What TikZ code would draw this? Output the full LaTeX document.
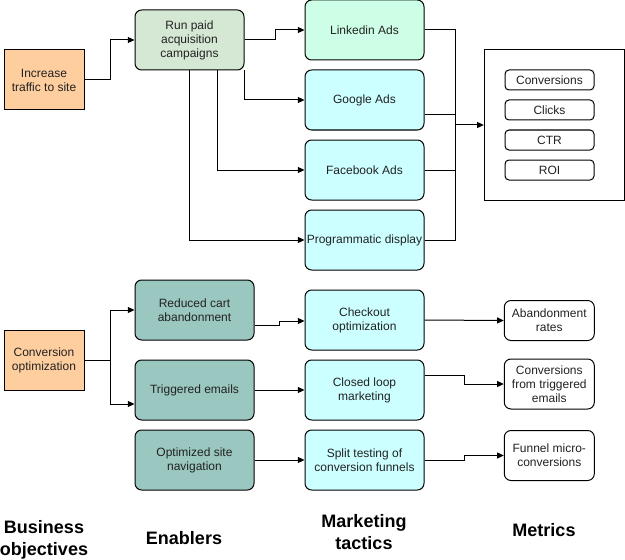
\documentclass[tikz,border=0pt]{standalone}
\usepackage{fontspec}
\setmainfont{Liberation Sans}
\usetikzlibrary{arrows.meta,calc}
\definecolor{orangef}{HTML}{FFCE9F}
\definecolor{greenf}{HTML}{D5E8D4}
\definecolor{mintf}{HTML}{CCFFE6}
\definecolor{cyanf}{HTML}{CCFFFF}
\definecolor{tealf}{HTML}{9AC7BF}
\definecolor{txt}{HTML}{222222}
\tikzset{
  base/.style={draw=black, line width=0.75pt, align=center, font=\fontsize{9pt}{10.5pt}\selectfont, text=txt, inner sep=1pt},
  objbox/.style={base, fill=orangef, minimum width=60pt, minimum height=45pt},
  rbox/.style={base, rounded corners=5pt},
  tacbox/.style={rbox, fill=cyanf, minimum width=89.25pt, minimum height=45pt},
  enbox/.style={rbox, fill=tealf, minimum width=89.25pt, minimum height=45pt},
  metsmall/.style={rbox, fill=white, rounded corners=3pt, minimum width=66.75pt, minimum height=15pt},
  metbox/.style={rbox, fill=white, minimum width=67.5pt},
  heading/.style={align=center, font=\fontsize{13.5pt}{16pt}\selectfont\bfseries, text=black},
  arr/.style={line width=0.75pt, -{Triangle[length=5pt,width=4.5pt]}},
  ln/.style={line width=0.75pt}
}
\begin{document}
\begin{tikzpicture}[x=0.75pt,y=-0.75pt]
\useasboundingbox (0,0) rectangle (625,560);
% business objectives
\node[objbox] (inc) at (44,80) {Increase\\traffic to site};
\node[objbox] (conv) at (44,360) {Conversion\\optimization};
% enablers
\node[rbox, fill=greenf, minimum width=81.75pt, minimum height=45pt] (run) at (189.5,40) {Run paid\\acquisition\\campaigns};
\node[enbox] (red) at (194.5,310) {Reduced cart\\abandonment};
\node[enbox] (trig) at (194.5,390) {Triggered emails};
\node[enbox] (opt) at (194.5,460) {Optimized site\\navigation};
% tactics
\node[tacbox, fill=mintf] (lin) at (364.5,30) {Linkedin Ads};
\node[tacbox] (goog) at (364.5,100) {Google Ads};
\node[tacbox] (fb) at (364.5,170) {Facebook Ads};
\node[tacbox] (prog) at (364.5,240) {Programmatic display};
\node[tacbox] (chk) at (364.5,320) {Checkout\\optimization};
\node[tacbox] (clo) at (364.5,390) {Closed loop\\marketing};
\node[tacbox] (spl) at (364.5,460) {Split testing of\\conversion funnels};
% metrics
\node[base, fill=white, minimum width=105pt, minimum height=112.5pt] (met) at (554.3,125) {};
\node[metsmall] (mc) at (549.5,80) {Conversions};
\node[metsmall] (mk) at (549.5,110) {Clicks};
\node[metsmall] (mt) at (549.5,140) {CTR};
\node[metsmall] (mr) at (549.5,170) {ROI};
\node[metbox, minimum height=30pt] (ab) at (549.3,320.5) {Abandonment\\rates};
\node[metbox, minimum height=37.5pt] (cft) at (549.3,384) {Conversions\\from triggered\\emails};
\node[metbox, minimum height=37.5pt] (fun) at (549.3,455.5) {Funnel micro-\\conversions};
% headings
\node[heading] (h1) at (44,540) {Business\\objectives};
\node[heading] (h2) at (184,538) {Enablers};
\node[heading] (h3) at (364,532) {Marketing\\tactics};
\node[heading] (h4) at (544,530) {Metrics};
% connectors top
\draw[arr] (inc.east) -- ++(26,0) |- (run.west);
\draw[arr] (run.east) -- (275,40) |- (lin.west);
\draw[arr] (run.south east) |- (goog.west);
\coordinate (r1) at (217,70);
\coordinate (r2) at (189,70);
\draw[arr] (r1) |- (fb.west);
\draw[arr] (r2) |- (prog.west);
\coordinate (mj) at (455,125);
\draw[ln] (lin.east) -| (mj);
\draw[ln] ($(goog.east)+(0,15)$) -| (mj);
\draw[ln] (fb.east) -| (mj);
\draw[ln] (prog.east) -| (mj);
\draw[arr] (mj) -- (met.west);
% connectors bottom
\coordinate (cj) at (110,360);
\draw[ln] (conv.east) -- (cj);
\draw[arr] (cj) |- (red.west);
\draw[arr] (cj) |- ($(trig.west)+(0,14)$);
\draw[arr] ($(red.east)+(0,15)$) -- (279,325) -- (279,321) -- ($(chk.west)+(0,1)$);
\draw[arr] (trig.east) -- (clo.west);
\draw[arr] (opt.east) -- (spl.west);
\draw[arr] (chk.east) -- (ab.west);
\draw[arr] ($(clo.east)+(0,-15)$) -- (464,375) |- (cft.west);
\draw[arr] (spl.east) -- (464,460) |- (fun.west);
\end{tikzpicture}
\end{document}
